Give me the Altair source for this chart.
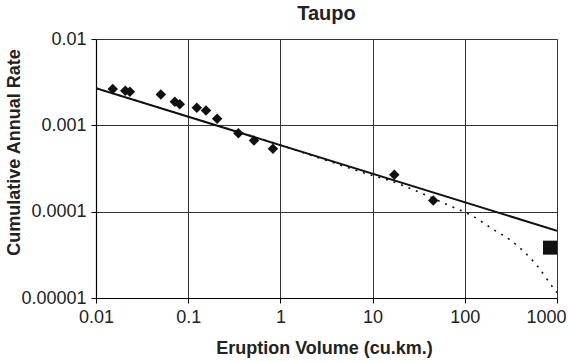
import altair as alt
import pandas as pd

# Observed eruptions (diamonds)
obs_volume = [0.0152, 0.0208, 0.0233, 0.0505, 0.0716, 0.081, 0.124, 0.156, 0.206, 0.35, 0.517, 0.83, 17.2, 45.5]
obs_rate = [0.00263, 0.00251, 0.00245, 0.00228, 0.00188, 0.00175, 0.0016, 0.00149, 0.00119, 0.00081, 0.000667, 0.000534, 0.000268, 0.000135]

# Large event (square)
big_volume = [840]
big_rate = [0.0000383]

# Power-law fit (solid)
fit_volume = [0.01, 1000]
fit_rate = [0.0027, 0.00006]

# Tapered fit (dotted)
taper_volume = [0.01, 0.1, 0.3, 1, 3, 10, 14.4, 31.6, 74, 115, 205, 310, 443, 612, 929, 1000]
taper_rate = [0.0027, 0.00126, 0.00088, 0.00059, 0.000400, 0.000262, 0.000234, 0.000169, 0.000113, 0.000092,
              0.000062, 0.000047, 0.000034, 0.0000235, 0.0000127, 0.0000115]

x_ticks = [0.01, 0.1, 1, 10, 100, 1000]
y_ticks = [0.00001, 0.0001, 0.001, 0.01]

obs = pd.DataFrame({"v": obs_volume, "r": obs_rate})
big = pd.DataFrame({"v": big_volume, "r": big_rate})
fit = pd.DataFrame({"v": fit_volume, "r": fit_rate})
taper = pd.DataFrame({"v": taper_volume, "r": taper_rate})

FONT = "Liberation Sans"
TXT = "#222222"

xenc = alt.X("v:Q", scale=alt.Scale(type="log", domain=[0.01, 1000], nice=False),
             axis=alt.Axis(values=x_ticks, format=".5~f", title="Eruption Volume (cu.km.)",
                           grid=True, gridColor="#333333", gridWidth=1, gridOpacity=1,
                           domainColor="#000000", domainWidth=1.2, tickColor="#000000", tickSize=5,
                           labelFont=FONT, labelFontSize=18, labelColor=TXT, labelPadding=5,
                           labelFlush=False,
                           labelOffset={"expr": "datum.value >= 1000 ? -11 : 0"},
                           titleFont=FONT, titleFontSize=18, titleFontWeight="bold", titleColor=TXT,
                           titleBaseline="middle", titleY=50, titleX=228))
yenc = alt.Y("r:Q", scale=alt.Scale(type="log", domain=[0.00001, 0.01], nice=False),
             axis=alt.Axis(values=y_ticks, format=".5~f", title="Cumulative Annual Rate",
                           grid=True, gridColor="#333333", gridWidth=1, gridOpacity=1,
                           domainColor="#000000", domainWidth=1.2, tickColor="#000000", tickSize=5,
                           labelFont=FONT, labelFontSize=18, labelColor=TXT, labelPadding=5,
                           labelFlush=False,
                           titleFont=FONT, titleFontSize=18, titleFontWeight="bold", titleColor=TXT,
                           titleBaseline="middle", titleX=-82, titleY=113))

pts = alt.Chart(obs).mark_point(shape="diamond", filled=True, color="#111111", size=110, opacity=1).encode(x=xenc, y=yenc)
sq = alt.Chart(big).mark_point(shape="square", filled=True, color="#111111", size=196, opacity=1).encode(x="v:Q", y="r:Q")
solid = alt.Chart(fit).mark_line(color="#111111", strokeWidth=2, clip=True).encode(x="v:Q", y="r:Q")
dotted = alt.Chart(taper).mark_line(color="#111111", strokeWidth=1.6, strokeDash=[2, 6], clip=True,
                                    interpolate="monotone").encode(x="v:Q", y="r:Q")

chart = alt.layer(dotted, solid, pts, sq).properties(
    width=461, height=259,
    title=alt.TitleParams("Taupo", font=FONT, fontSize=20, fontWeight="bold", color=TXT,
                          anchor="middle", offset=6),
    autosize=alt.AutoSizeParams(type="none"),
    padding={"left": 96, "top": 39, "right": 11, "bottom": 64},
).configure_view(stroke="#222222", strokeWidth=1).configure(background="white")

chart.save("out.html", embed_options={"renderer": "svg", "actions": False})
